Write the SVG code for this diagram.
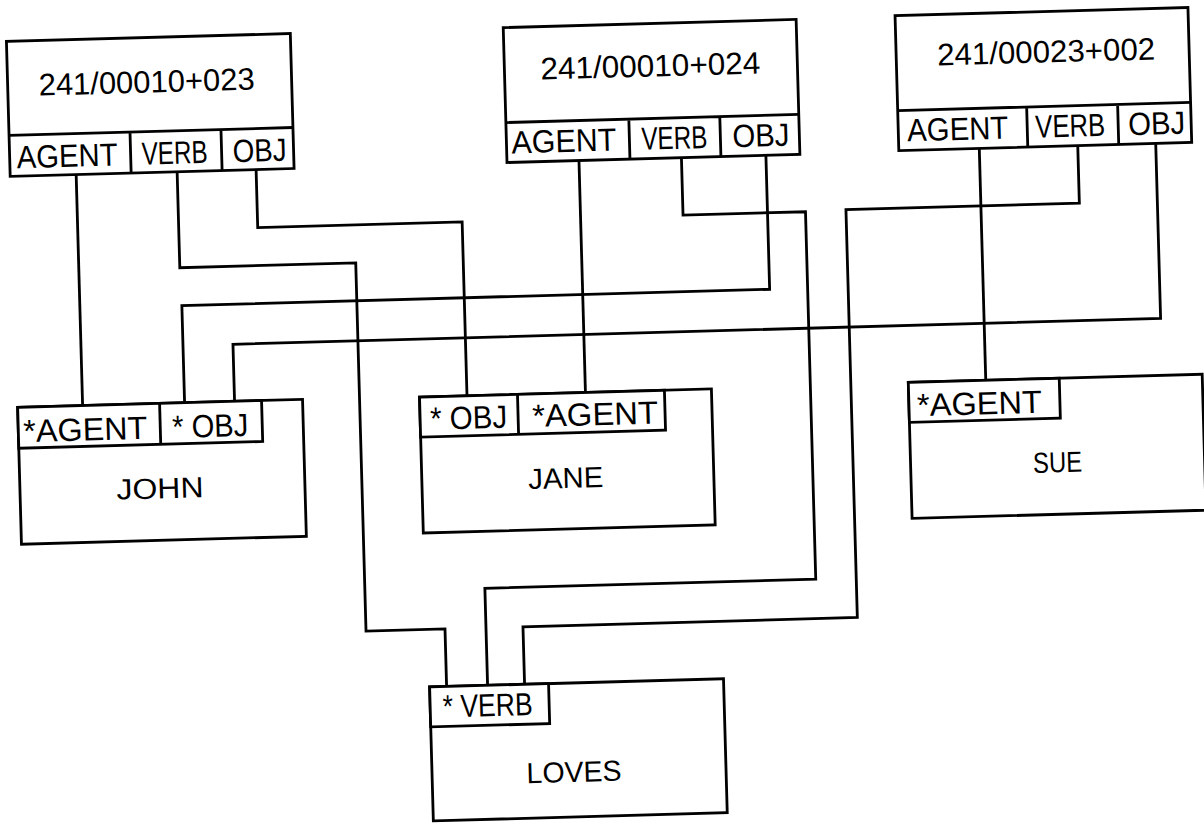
<svg xmlns="http://www.w3.org/2000/svg" width="1204" height="825" viewBox="0 0 1204 825">
<style>
.bg{fill:#ffffff}
.box{fill:#ffffff;stroke:#000;stroke-width:2.8}
.div{stroke:#000;stroke-width:2.8;fill:none}
.wire{fill:none;stroke:#000;stroke-width:2.8;stroke-linejoin:miter}
.num{font-family:"Liberation Sans",Arial,sans-serif;font-size:31px;fill:#000;text-anchor:middle}
.lbl{font-family:"Liberation Sans",Arial,sans-serif;font-size:32px;fill:#000}
.name{font-family:"Liberation Sans",Arial,sans-serif;font-size:29px;fill:#000;text-anchor:middle}
</style>
<rect class="bg" x="0" y="0" width="1204" height="825"/>
<g transform="rotate(-1.6 602 412)">
<g id="connectors">
<path class="wire" d="M83,160 V391"/>
<path class="wire" d="M184,160 V256 H360 V624.5 H439 V682"/>
<path class="wire" d="M263,160 V218 H467.5 V392"/>
<path class="wire" d="M586,160 V392"/>
<path class="wire" d="M688.5,160 V217.5 H811 V585 H480 V682"/>
<path class="wire" d="M773,160 V294 H185 V391"/>
<path class="wire" d="M986.5,159 V391"/>
<path class="wire" d="M1085,159 V216.5 H851.5 V624.5 H517 V682"/>
<path class="wire" d="M1163,159 V334 H235 V391"/>
</g>
<g id="rec1">
<rect class="box" x="17" y="25" width="284" height="135"/>
<path class="div" d="M17,119 H301 M138,119 V160 M229,119 V160"/>
<text class="num" x="156" y="80" textLength="216" lengthAdjust="spacingAndGlyphs">241/00010+023</text>
<text class="lbl" x="24" y="152" textLength="101" lengthAdjust="spacingAndGlyphs">AGENT</text>
<text class="lbl" x="149" y="152" textLength="66" lengthAdjust="spacingAndGlyphs">VERB</text>
<text class="lbl" x="240" y="152" textLength="54" lengthAdjust="spacingAndGlyphs">OBJ</text>
</g>
<g id="rec2">
<rect class="box" x="514" y="25" width="293" height="135"/>
<path class="div" d="M514,120 H807 M637,120 V160 M728,120 V160"/>
<text class="num" x="660" y="78" textLength="220" lengthAdjust="spacingAndGlyphs">241/00010+024</text>
<text class="lbl" x="519" y="151" textLength="105" lengthAdjust="spacingAndGlyphs">AGENT</text>
<text class="lbl" x="649" y="151" textLength="66" lengthAdjust="spacingAndGlyphs">VERB</text>
<text class="lbl" x="740" y="151" textLength="57" lengthAdjust="spacingAndGlyphs">OBJ</text>
</g>
<g id="rec3">
<rect class="box" x="906" y="24" width="293" height="135"/>
<path class="div" d="M906,119 H1199 M1035,119 V159 M1126,119 V159"/>
<text class="num" x="1056" y="75" textLength="218" lengthAdjust="spacingAndGlyphs">241/00023+002</text>
<text class="lbl" x="915" y="150" textLength="101" lengthAdjust="spacingAndGlyphs">AGENT</text>
<text class="lbl" x="1043" y="150" textLength="70" lengthAdjust="spacingAndGlyphs">VERB</text>
<text class="lbl" x="1136" y="150" textLength="57" lengthAdjust="spacingAndGlyphs">OBJ</text>
</g>
<g id="john">
<rect class="box" x="18" y="391" width="285" height="137"/>
<rect class="box" x="18" y="391" width="244" height="41"/>
<path class="div" d="M160,391 V432"/>
<text class="lbl" x="23" y="426" textLength="124" lengthAdjust="spacingAndGlyphs">*AGENT</text>
<text class="lbl" x="172" y="426" textLength="76" lengthAdjust="spacingAndGlyphs">* OBJ</text>
<text class="name" x="158" y="486" textLength="87" lengthAdjust="spacingAndGlyphs">JOHN</text>
</g>
<g id="jane">
<rect class="box" x="420" y="392" width="292" height="136"/>
<rect class="box" x="420" y="392" width="245" height="40"/>
<path class="div" d="M518,392 V432"/>
<text class="lbl" x="430" y="425" textLength="77" lengthAdjust="spacingAndGlyphs">* OBJ</text>
<text class="lbl" x="532" y="425" textLength="126" lengthAdjust="spacingAndGlyphs">*AGENT</text>
<text class="name" x="564" y="487" textLength="75" lengthAdjust="spacingAndGlyphs">JANE</text>
</g>
<g id="sue">
<rect class="box" x="909" y="391" width="294" height="136"/>
<rect class="box" x="909" y="391" width="151" height="40"/>
<text class="lbl" x="917" y="425" textLength="125" lengthAdjust="spacingAndGlyphs">*AGENT</text>
<text class="name" x="1056" y="485" textLength="49" lengthAdjust="spacingAndGlyphs">SUE</text>
</g>
<g id="loves">
<rect class="box" x="422" y="682" width="294" height="134"/>
<rect class="box" x="422" y="682" width="119" height="40"/>
<text class="lbl" x="434.5" y="713" textLength="90" lengthAdjust="spacingAndGlyphs">* VERB</text>
<text class="name" x="564" y="781" textLength="95" lengthAdjust="spacingAndGlyphs">LOVES</text>
</g>
</g>
</svg>
